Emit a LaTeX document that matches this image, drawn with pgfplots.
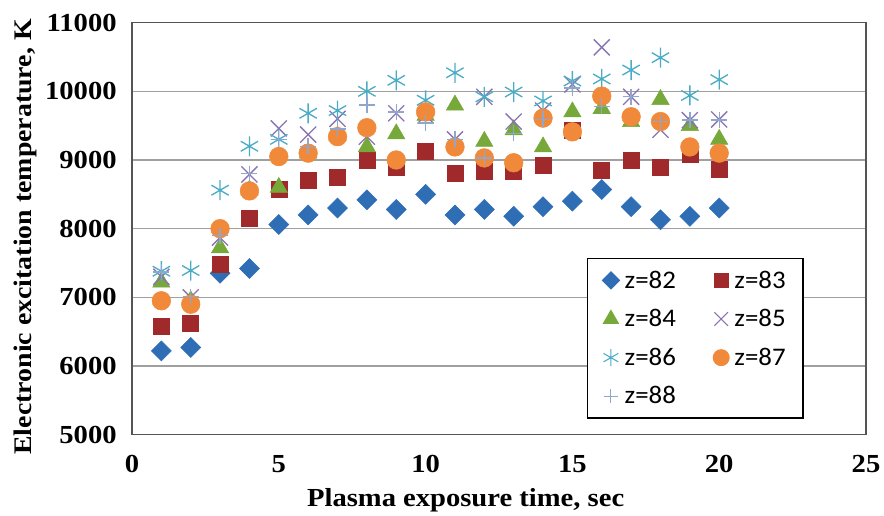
\documentclass[border=0pt]{standalone}
\usepackage{fontspec}
\setmainfont{Liberation Serif}[FakeStretch=1.1]
\newfontfamily\legfont{Carlito}[FakeStretch=1.06]
\usepackage{pgfplots}
\usepackage{pgfplotstable}
\pgfplotsset{compat=1.18}
\definecolor{cblue}{HTML}{2F6EB5}
\definecolor{cred}{HTML}{A0292C}
\definecolor{cgreen}{HTML}{77A83A}
\definecolor{cpurple}{HTML}{8B73B0}
\definecolor{ccyan}{HTML}{4BACC6}
\definecolor{corange}{HTML}{F08A3A}
\definecolor{cplus}{HTML}{8FA6CF}
\definecolor{gridc}{HTML}{A0A0A0}
\definecolor{framec}{HTML}{555555}
\pgfplotstableread{
x z82 z83 z84 z85 z86 z87 z88
1 6220 6580 7220 7300 7380 6950 7370
2 6270 6620 6950 7000 7390 6900 7010
3 7350 7480 7720 7870 8560 8000 7900
4 7420 8150 8560 8790 9200 8550 8800
5 8060 8580 8600 9460 9300 9050 9300
6 8200 8700 9100 9370 9680 9100 9200
7 8300 8750 9350 9600 9720 9340 9450
8 8420 9000 9190 9340 10000 9470 9800
9 8280 8900 9380 9680 10160 9000 9700
10 8500 9130 9650 9650 9870 9700 9540
11 8200 8800 9800 9300 10270 9190 9300
12 8280 8840 9270 9920 9920 9030 9030
13 8180 8840 9440 9560 9990 8960 9390
14 8320 8930 9190 9720 9860 9610 9590
15 8400 9430 9700 10100 10150 9410 10050
16 8570 8850 9750 10640 10180 9930 9780
17 8320 8990 9560 9920 10310 9630 9920
18 8130 8900 9880 9440 10490 9560 9560
19 8180 9080 9500 9580 9940 9190 9580
20 8300 8860 9300 9590 10170 9100 9580
}\datatable
\begin{document}
\begin{tikzpicture}
\path[use as bounding box] (-99pt,-61pt) rectangle (564pt,326pt);
\begin{axis}[
  at={(0,0)}, anchor=south west,
  scale only axis, width=550.5pt, height=309pt,
  xmin=0, xmax=25, ymin=5000, ymax=11000,
  xtick={0,5,...,25}, ytick={5000,6000,...,11000},
  scaled ticks=false,
  major tick length=0pt,
  ymajorgrids, grid style={gridc, line width=1pt},
  axis line style={framec, line width=1pt},
  /pgf/number format/assume math mode=true,
  /pgf/number format/1000 sep={},
  tick label style={font=\fontsize{19.5}{22}\selectfont\bfseries},
  xticklabel style={yshift=-12pt},
  yticklabel style={xshift=-8pt},
  label style={font=\fontsize{19}{22}\selectfont\bfseries},
  xlabel={Plasma exposure time, sec},
  ylabel={Electronic excitation temperature, K},
  xlabel style={yshift=-5pt, xshift=-25pt, font=\fontsize{19.5}{22}\selectfont\bfseries},
  ylabel style={at={(ticklabel cs:0.48)}, yshift=-1pt},
  legend columns=2,
  legend style={at={(rel axis cs:0.62,0.039)}, anchor=south west,
    draw=black, line width=1pt, font=\legfont\fontsize{19}{21}\selectfont,
    row sep=10.5pt, inner xsep=11pt, inner ysep=7pt, cells={anchor=west}},
  legend image post style={line width=0.8pt, scale=0.85},
  /tikz/every odd column/.append style={column sep=2pt},
  /tikz/every even column/.append style={column sep=26pt},
]
\addplot[only marks, mark=square*, mark size=5.3pt, mark options={rotate=45}, color=cblue] table[x=x,y=z82]{\datatable};
\addlegendentry{z=82}
\addplot[only marks, mark=square*, mark size=6pt, color=cred] table[x=x,y=z83]{\datatable};
\addlegendentry{z=83}
\addplot[only marks, mark=triangle*, mark size=7.5pt, color=cgreen] table[x=x,y=z84]{\datatable};
\addlegendentry{z=84}
\addplot[only marks, mark=x, mark size=8.5pt, color=cpurple, line width=1pt] table[x=x,y=z85]{\datatable};
\addlegendentry{z=85}
\addplot[only marks, mark=asterisk, mark size=7.5pt, color=ccyan, line width=1pt] table[x=x,y=z86]{\datatable};
\addlegendentry{z=86}
\addplot[only marks, mark=*, mark size=7pt, color=corange] table[x=x,y=z87]{\datatable};
\addlegendentry{z=87}
\addplot[only marks, mark=+, mark size=6pt, color=cplus, line width=1pt] table[x=x,y=z88]{\datatable};
\addlegendentry{z=88}
\end{axis}
\end{tikzpicture}
\end{document}
